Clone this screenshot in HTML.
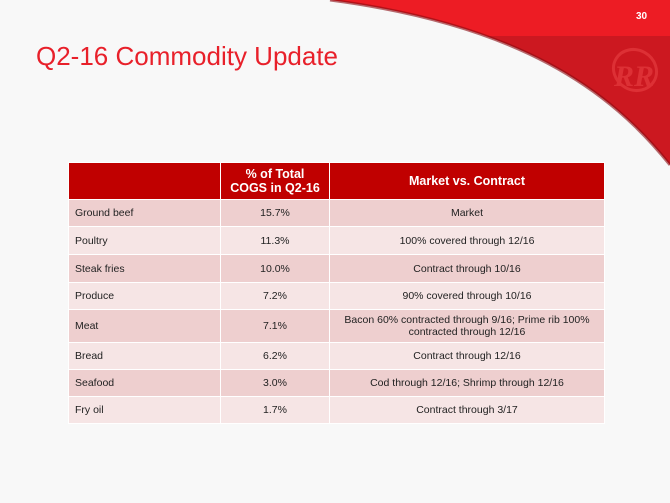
<!DOCTYPE html>
<html><head><meta charset="utf-8"><style>
body{margin:0;width:670px;height:503px;background:#f8f8f8;position:relative;overflow:hidden;font-family:"Liberation Sans",Arial,sans-serif}
svg{position:absolute;left:0;top:0}
.title{position:absolute;left:36px;top:41px;font-size:26px;color:#e8202a}
.num{position:absolute;left:636px;top:11px;font-size:10px;font-weight:bold;color:#fff}
table{position:absolute;left:68px;top:162px;border-collapse:collapse;font-size:10.5px;color:#222}
td,th{border:1.5px solid #fff;padding:0}
th{background:#c00000;color:#fff;font-size:12.5px;font-weight:bold;height:36px}
td{text-align:center}
td:first-child{text-align:left;padding-left:6px}
tr.a td{background:#eecfcf}
tr.b td{background:#f6e5e5}
</style></head><body>
<svg width="670" height="503">
<defs><clipPath id="c"><path d="M330 0 L670 0 L670 165 C610 90 520 25 330 0 Z"/></clipPath></defs>
<g clip-path="url(#c)">
<rect x="300" y="0" width="370" height="36" fill="#ed1c24"/>
<rect x="300" y="36" width="370" height="140" fill="#cc1820"/>
</g>
<path d="M330 0 C520 25 610 90 670 165" fill="none" stroke="#8a0a10" stroke-width="3" opacity="0.6"/>
<ellipse cx="635" cy="70" rx="22" ry="20" fill="none" stroke="#dd3035" stroke-width="3" transform="rotate(30 635 70)"/>
<text x="614" y="86" font-family="Liberation Serif,serif" font-style="italic" font-weight="bold" font-size="30" fill="#dd3035">RR</text>
</svg>
<div class="num">30</div>
<div class="title">Q2-16 Commodity Update</div>
<table>
<tr><th style="width:151px"></th><th style="width:108px">% of Total<br>COGS in Q2-16</th><th style="width:274px">Market vs. Contract</th></tr>
<tr class="a" style="height:27px"><td>Ground beef</td><td>15.7%</td><td>Market</td></tr>
<tr class="b" style="height:28px"><td>Poultry</td><td>11.3%</td><td>100% covered through 12/16</td></tr>
<tr class="a" style="height:28px"><td>Steak fries</td><td>10.0%</td><td>Contract through 10/16</td></tr>
<tr class="b" style="height:27px"><td>Produce</td><td>7.2%</td><td>90% covered through 10/16</td></tr>
<tr class="a" style="height:33px"><td>Meat</td><td>7.1%</td><td>Bacon 60% contracted through 9/16; Prime rib 100%<br>contracted through 12/16</td></tr>
<tr class="b" style="height:27px"><td>Bread</td><td>6.2%</td><td>Contract through 12/16</td></tr>
<tr class="a" style="height:27px"><td>Seafood</td><td>3.0%</td><td>Cod through 12/16; Shrimp through 12/16</td></tr>
<tr class="b" style="height:27px"><td>Fry oil</td><td>1.7%</td><td>Contract through 3/17</td></tr>
</table>
</body></html>
